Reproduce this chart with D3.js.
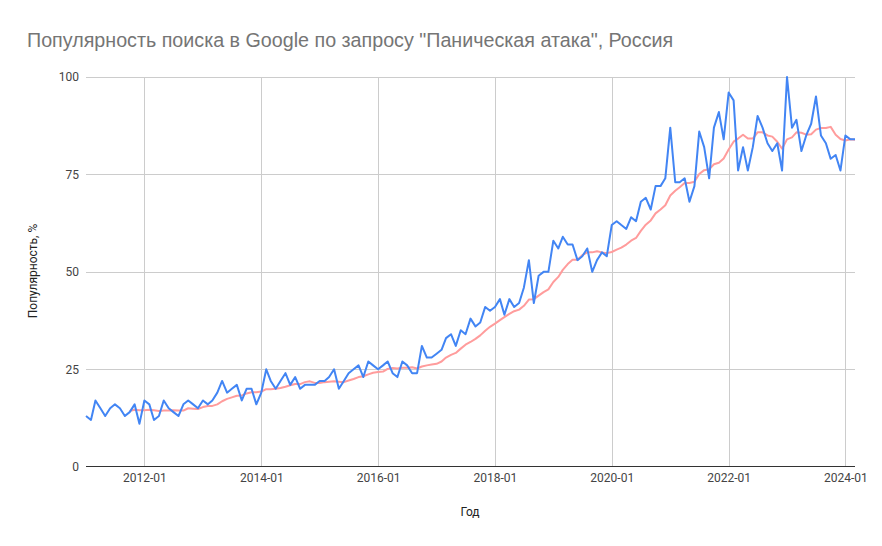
<!DOCTYPE html>
<html>
<head>
<meta charset="utf-8">
<script src="https://cdn.jsdelivr.net/npm/d3@7"></script>
<style>
  html, body { margin: 0; padding: 0; background: #fff; }
  svg { display: block; }
</style>
</head>
<body>
<svg id="chart" width="882" height="546"></svg>
<script>
// ---- Data ----
const startMonth = "2011-01";
const popularity = [
  13,12,17,15,13,15,16,15,13,14,16,11,
  17,16,12,13,17,15,14,13,16,17,16,15,
  17,16,17,19,22,19,20,21,17,20,20,16,
  19,25,22,20,22,24,21,23,20,21,21,21,
  22,22,23,25,20,22,24,25,26,23,27,26,
  25,26,27,24,23,27,26,24,24,31,28,28,
  29,30,33,34,31,35,34,38,36,37,41,40,
  41,43,39,43,41,42,46,53,42,49,50,50,
  58,56,59,57,57,53,54,56,50,53,55,54,
  62,63,62,61,64,63,68,69,66,72,72,74,
  87,73,73,74,68,72,86,82,74,87,91,84,
  96,94,76,82,76,82,90,87,83,81,83,76,
  100,87,89,81,85,88,95,85,83,79,80,76,
  85,84,84
];
// Moving-average trend line (starts at 2011-10)
const trendStart = "2011-10";
const trend = [
  14.3,14.6,14.5,
  14.5,14.6,14.5,14.3,14.4,14.4,14.5,14.4,14.4,15.0,14.9,14.8,
  15.3,15.6,15.6,16.0,16.8,17.4,17.8,18.2,18.3,18.8,19.1,19.1,
  19.3,19.9,19.9,20.0,20.2,20.5,20.9,21.2,21.2,21.7,21.9,21.5,
  21.5,21.7,21.8,21.9,21.8,21.7,22.1,22.5,23.0,23.2,23.7,24.1,
  24.3,24.4,25.1,25.3,25.2,25.4,25.4,25.5,25.2,25.7,26.0,26.2,
  26.4,27.0,28.0,28.7,29.2,30.3,31.3,32.0,32.8,33.7,34.9,35.9,
  36.7,37.6,38.4,39.2,39.9,40.3,41.3,42.9,43.0,43.9,44.8,45.5,
  47.4,48.7,50.5,52.0,53.1,53.1,54.3,55.0,55.0,55.3,55.0,54.8,
  55.1,55.7,56.2,57.0,58.0,58.7,60.5,62.1,63.2,65.0,66.0,67.1,
  69.6,70.8,71.7,72.8,72.8,73.1,75.1,76.1,76.3,77.6,78.0,79.1,
  81.4,83.4,84.2,85.2,84.2,84.2,85.8,85.8,85.0,84.7,83.4,81.6,
  84.0,84.5,85.8,85.7,85.2,85.3,86.5,86.9,86.9,87.2,85.2,84.1,
  83.7,84.0,83.9
];
const yTicks = [0, 25, 50, 75, 100];
const xTickLabels = ["2012-01","2014-01","2016-01","2018-01","2020-01","2022-01","2024-01"];

const title = "Популярность поиска в Google по запросу \"Паническая атака\", Россия";
const yTitle = "Популярность, %";
const xTitle = "Год";

// ---- Build ----
const parseM = d3.timeParse("%Y-%m");
const t0 = parseM(startMonth);
const series = popularity.map((v, i) => ({ date: d3.timeMonth.offset(t0, i), v }));
const tt0 = parseM(trendStart);
const trendSeries = trend.map((v, i) => ({ date: d3.timeMonth.offset(tt0, i), v }));

const svg = d3.select("#chart");
const L = 86, R = 855, T = 77, B = 466.7;

const x = d3.scaleTime()
  .domain([t0, series[series.length - 1].date])
  .range([L, R]);
const y = d3.scaleLinear().domain([0, 100]).range([B, T]);

const font = "Roboto, Arial, sans-serif";
const titleFont = "'Liberation Sans', Arial, sans-serif";

// Title
svg.append("text")
  .attr("x", 27).attr("y", 47)
  .attr("font-family", titleFont).attr("font-size", 19.7)
  .attr("fill", "#757575")
  .text(title);

// Horizontal grid
svg.append("g").selectAll("line")
  .data(yTicks.filter(d => d > 0))
  .join("line")
  .attr("x1", L).attr("x2", R)
  .attr("y1", d => Math.round(y(d)) + 0.5).attr("y2", d => Math.round(y(d)) + 0.5)
  .attr("stroke", "#cccccc").attr("stroke-width", 1);

// Vertical grid
const xTickDates = xTickLabels.map(parseM);
svg.append("g").selectAll("line")
  .data(xTickDates)
  .join("line")
  .attr("x1", d => Math.round(x(d)) + 0.5).attr("x2", d => Math.round(x(d)) + 0.5)
  .attr("y1", T).attr("y2", B)
  .attr("stroke", "#cccccc").attr("stroke-width", 1);

// Y axis labels
const yAxis = d3.axisLeft(y).tickValues(yTicks).tickSize(0).tickPadding(0);
const gy = svg.append("g").attr("transform", `translate(${L - 7},0)`).call(yAxis);
gy.select(".domain").remove();
gy.selectAll("text").attr("font-family", font).attr("font-size", 12).attr("fill", "#444");

// X axis labels
const xAxis = d3.axisBottom(x).tickValues(xTickDates).tickFormat(d3.timeFormat("%Y-%m")).tickSize(0).tickPadding(0);
const gx = svg.append("g").attr("transform", `translate(0,${B + 7})`).call(xAxis);
gx.select(".domain").remove();
gx.selectAll("text").attr("font-family", font).attr("font-size", 12).attr("fill", "#444");

// Trend line
const line = d3.line().x(d => x(d.date)).y(d => y(d.v));
svg.append("path")
  .datum(trendSeries)
  .attr("d", line)
  .attr("fill", "none")
  .attr("stroke", "#ff9c9c").attr("stroke-width", 2)
  .attr("stroke-linejoin", "round");

// Main line
svg.append("path")
  .datum(series)
  .attr("d", line)
  .attr("fill", "none")
  .attr("stroke", "#4285f4").attr("stroke-width", 2)
  .attr("stroke-linejoin", "round");

// Baseline
svg.append("line")
  .attr("x1", L).attr("x2", R)
  .attr("y1", Math.round(B) - 0.5).attr("y2", Math.round(B) - 0.5)
  .attr("stroke", "#333").attr("stroke-width", 1);

// Axis titles
svg.append("text")
  .attr("x", 470).attr("y", 516)
  .attr("text-anchor", "middle")
  .attr("font-family", font).attr("font-size", 12).attr("fill", "#222")
  .text(xTitle);
svg.append("text")
  .attr("transform", "translate(37,271) rotate(-90)")
  .attr("text-anchor", "middle")
  .attr("font-family", font).attr("font-size", 12).attr("fill", "#222")
  .text(yTitle);
</script>
</body>
</html>
